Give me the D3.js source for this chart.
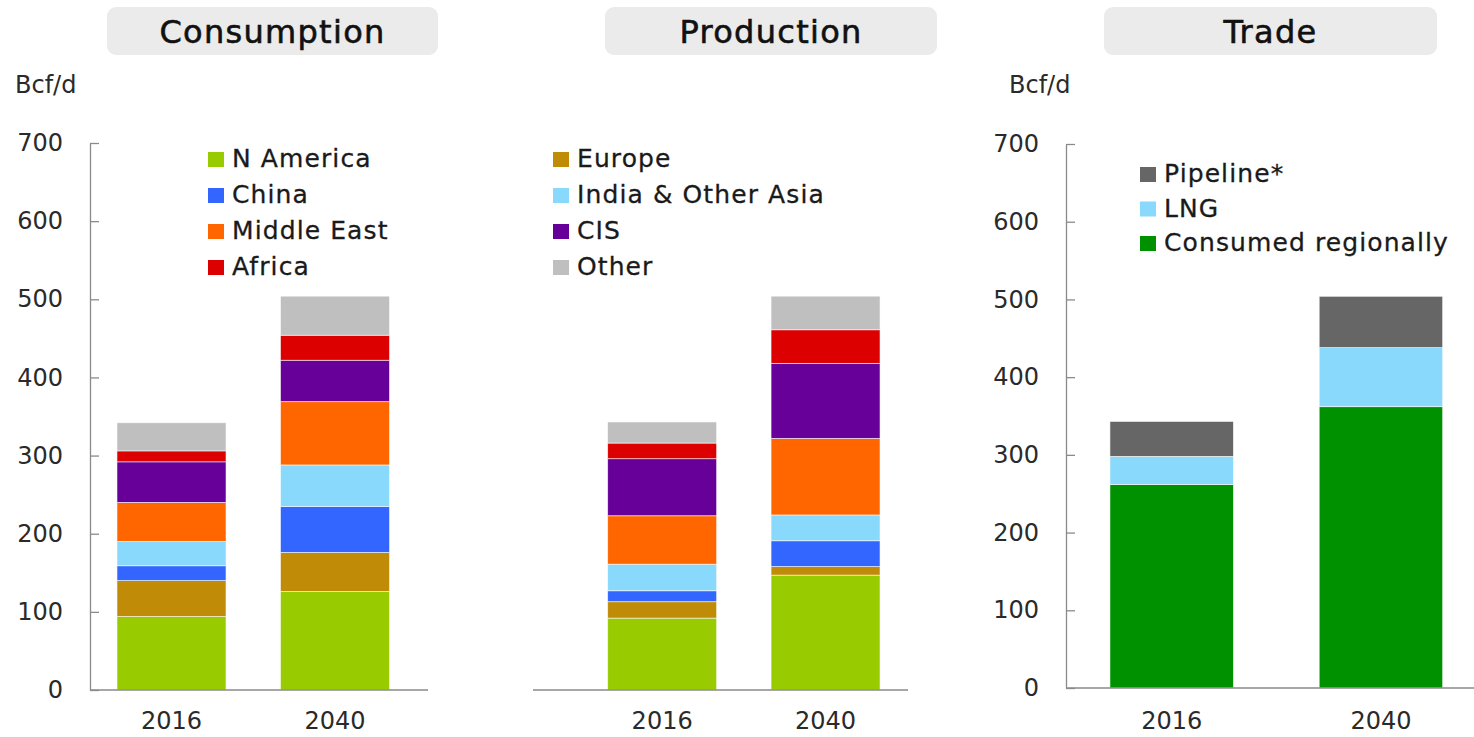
<!DOCTYPE html>
<html>
<head>
<meta charset="utf-8">
<script src="https://cdn.jsdelivr.net/npm/d3@7"></script>
<style>
  html, body { margin: 0; padding: 0; background: #fff; }
  svg { display: block; font-family: "DejaVu Sans", sans-serif; }
</style>
</head>
<body>
<svg id="chart" width="1474" height="737"></svg>
<script>
// ---------- data ----------
const years = ["2016", "2040"];
const regions = ["N America", "Europe", "China", "India & Other Asia", "Middle East", "CIS", "Africa", "Other"];
const regionColors = ["#99cc00", "#c08c08", "#3366ff", "#88d9fb", "#ff6600", "#660099", "#dd0000", "#bfbfbf"];
const consumption2016 = [94, 46, 19, 31, 50, 52, 14, 36];
const consumption2040 = [126, 50, 59, 53, 81, 53, 32, 50];
const production2016 = [92, 21, 14, 34, 62, 73, 20, 27];
const production2040 = [147, 11, 33, 33, 98, 96, 43, 43];
const tradeSeries = ["Consumed regionally", "LNG", "Pipeline*"];
const tradeColors = ["#009100", "#88d9fb", "#666666"];
const trade2016 = [262, 36, 45];
const trade2040 = [362, 76, 66];
const yTicks = [0, 100, 200, 300, 400, 500, 600, 700];
const panelTitles = ["Consumption", "Production", "Trade"];
const unitLabel = "Bcf/d";
const legendConsumption = ["N America", "China", "Middle East", "Africa"];
const legendProduction = ["Europe", "India & Other Asia", "CIS", "Other"];
const legendTrade = ["Pipeline*", "LNG", "Consumed regionally"];

// ---------- helpers ----------
const svg = d3.select("#chart");
const textColor = "#1a1a1a";
const axisColor = "#8a8a8a";

function buildTable(keys, valsA, valsB) {
  return years.map((yr, i) => {
    const row = { year: yr };
    const vals = i === 0 ? valsA : valsB;
    keys.forEach((k, j) => row[k] = vals[j]);
    return row;
  });
}

function drawPanel(opts) {
  const g = svg.append("g");
  const y = d3.scaleLinear().domain([0, 700]).range([opts.y0, opts.y700]);
  const x = d3.scaleBand().domain(years).range(opts.bandRange)
    .paddingInner(opts.padIn).paddingOuter(opts.padOut);

  // title box
  g.append("rect")
    .attr("x", opts.title.x0).attr("y", 7)
    .attr("width", opts.title.x1 - opts.title.x0).attr("height", 48)
    .attr("rx", 9).attr("fill", "#ebebeb");
  g.append("text")
    .attr("x", (opts.title.x0 + opts.title.x1) / 2).attr("y", 43)
    .attr("text-anchor", "middle")
    .attr("font-size", 32).attr("letter-spacing", 1.3)
    .attr("fill", "#111").attr("stroke", "#111").attr("stroke-width", 0.6)
    .text(opts.title.text);

  // bars
  const table = buildTable(opts.keys, opts.a, opts.b);
  const stacked = d3.stack().keys(opts.keys)(table);
  const color = d3.scaleOrdinal().domain(opts.keys).range(opts.colors);
  g.selectAll("g.layer").data(stacked).join("g")
    .attr("class", "layer")
    .attr("fill", d => color(d.key))
    .selectAll("rect").data(d => d).join("rect")
    .attr("x", d => x(d.data.year))
    .attr("width", x.bandwidth())
    .attr("y", d => y(d[1]))
    .attr("height", d => y(d[0]) - y(d[1]))
    .attr("stroke", "#fff").attr("stroke-width", 0.8).attr("stroke-opacity", 0.7);

  // y axis
  if (opts.yAxisX !== null) {
    const ya = g.append("g")
      .attr("transform", `translate(${opts.yAxisX},0)`)
      .call(d3.axisLeft(y).tickValues(yTicks).tickSize(-9).tickSizeOuter(0).tickPadding(27));
    ya.select(".domain").attr("stroke", axisColor).attr("stroke-width", 1.3);
    ya.selectAll(".tick line").attr("stroke", axisColor).attr("stroke-width", 1.3);
    ya.selectAll(".tick text").attr("font-size", 24)
      .attr("font-family", "DejaVu Sans, sans-serif").attr("fill", "#2a2a2a");
    g.append("text")
      .attr("x", opts.unitX).attr("y", 93)
      .attr("font-size", 24).attr("fill", "#2a2a2a").text(unitLabel);
  }

  // x axis line
  g.append("line")
    .attr("x1", opts.xLine[0]).attr("x2", opts.xLine[1])
    .attr("y1", y(0)).attr("y2", y(0))
    .attr("stroke", axisColor).attr("stroke-width", 1.5);

  // x labels
  g.selectAll("text.xl").data(years).join("text")
    .attr("class", "xl")
    .attr("x", d => x(d) + x.bandwidth() / 2)
    .attr("y", 729)
    .attr("text-anchor", "middle")
    .attr("font-size", 24).attr("fill", "#2a2a2a")
    .text(d => d);

  // legend
  const lg = g.append("g");
  opts.legend.items.forEach((name, i) => {
    const by = opts.legend.y0 + i * opts.legend.dy;
    const idx = opts.keys.indexOf(name);
    lg.append("rect")
      .attr("x", opts.legend.x).attr("y", by - 15)
      .attr("width", 16).attr("height", 15)
      .attr("fill", opts.colors[idx]);
    lg.append("text")
      .attr("x", opts.legend.x + 24).attr("y", by)
      .attr("font-size", 25).attr("letter-spacing", 1.1)
      .attr("fill", textColor).attr("stroke", textColor).attr("stroke-width", 0.3)
      .text(name);
  });
}

// ---------- panels ----------
drawPanel({
  keys: regions, colors: regionColors, a: consumption2016, b: consumption2040,
  y0: 690, y700: 143,
  bandRange: [90, 416.5], padIn: 0.333, padOut: 0.165,
  yAxisX: 90, unitX: 15,
  xLine: [90, 428],
  title: { x0: 107, x1: 438, text: panelTitles[0] },
  legend: { items: legendConsumption, x: 208, y0: 167, dy: 36 }
});

drawPanel({
  keys: regions, colors: regionColors, a: production2016, b: production2040,
  y0: 690, y700: 143,
  bandRange: [580.7, 907], padIn: 0.333, padOut: 0.165,
  yAxisX: null,
  xLine: [533, 908],
  title: { x0: 605, x1: 937, text: panelTitles[1] },
  legend: { items: legendProduction, x: 553, y0: 167, dy: 36 }
});

drawPanel({
  keys: tradeSeries, colors: tradeColors, a: trade2016, b: trade2040,
  y0: 688, y700: 144,
  bandRange: [1066, 1486.6], padIn: 0.41, padOut: 0.21,
  yAxisX: 1066, unitX: 1009,
  xLine: [1066, 1474],
  title: { x0: 1104, x1: 1437, text: panelTitles[2] },
  legend: { items: legendTrade, x: 1140, y0: 182, dy: 34.5 }
});
</script>
</body>
</html>
